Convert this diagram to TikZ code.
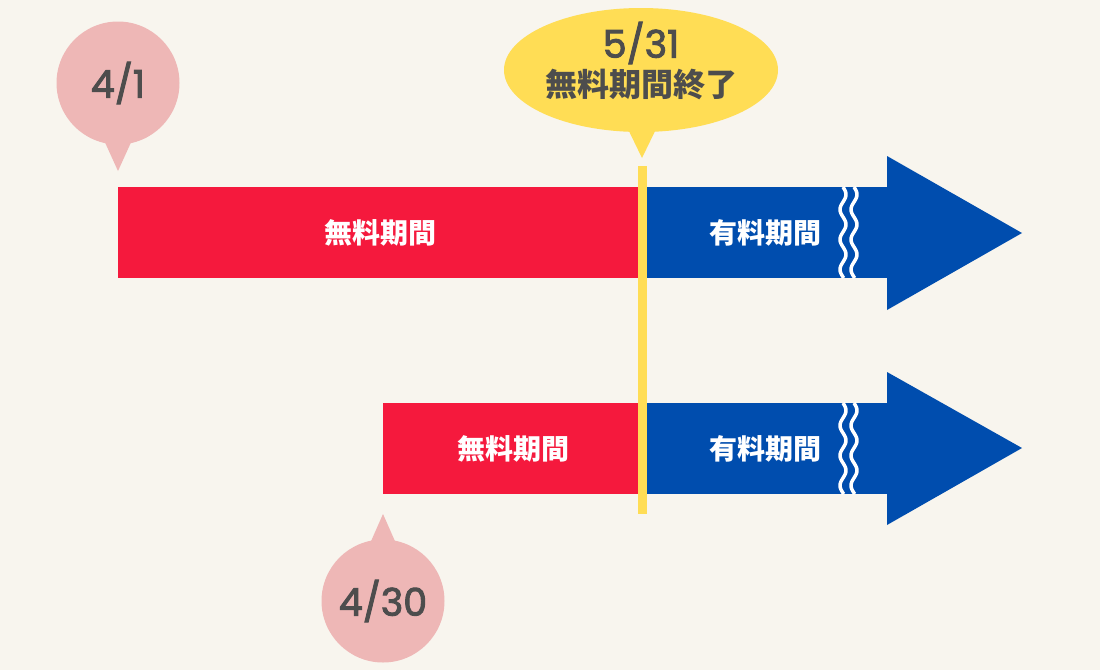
\documentclass[tikz,border=0pt]{standalone}
\usepackage{fontspec}
\setmainfont{Poppins}
\newfontfamily\datefont{Poppins}[FakeBold=2.5]
\newfontfamily\jpfont{Noto Sans CJK JP}
\definecolor{bgcream}{HTML}{F8F5EE}
\definecolor{freered}{HTML}{F5193D}
\definecolor{paidblue}{HTML}{004DAE}
\definecolor{endyellow}{HTML}{FFDD55}
\definecolor{datepink}{HTML}{EEB7B6}
\definecolor{textgray}{HTML}{4D4D4D}

\begin{document}
\begin{tikzpicture}[x=1pt, y=-1pt,
    barlabel/.style={white, font=\jpfont\bfseries\fontsize{28}{30}\selectfont},
    datelabel/.style={textgray, inner sep=0pt, font=\datefont\fontsize{38}{40}\selectfont},
    wave/.style={white, line width=3.5pt}]
	\fill[bgcream] (0,0) rectangle (1100,670);
	\useasboundingbox (0,0) rectangle (1100,670);
	% bars
	\fill[freered] (118,187) rectangle (641,278);
	\fill[freered] (383,403) rectangle (641,494);
	\fill[paidblue] (641,187) rectangle (887,278);
	\fill[paidblue] (641,403) rectangle (887,494);
	\fill[paidblue] (887,156) -- (1022,233) -- (887,310) -- cycle;
	\fill[paidblue] (887,372) -- (1022,448) -- (887,525) -- cycle;
	\foreach \wx in {843,854}
		\foreach \wy in {187,403}
			\draw[wave] plot[domain=0:91, samples=80, variable=\t] ({\wx+3*sin(\t*12)}, {\wy+\t});
	% end of free period
	\fill[endyellow] (638,166) rectangle (647,514);
	\fill[endyellow] (641,70) ellipse [x radius=137, y radius=62];
	\fill[endyellow] (626,125) -- (642,158) -- (658,125) -- cycle;
	\node[datelabel] (enddate) at (641,43) {5/31};
	\node[textgray, inner sep=0pt, font=\jpfont\bfseries\fontsize{32}{34}\selectfont] (endtext) at (641,84) {無料期間終了};
	% start dates
	\fill[datepink] (118,83) circle [radius=61.5];
	\fill[datepink] (103,138) -- (118,171) -- (133,138) -- cycle;
	\node[datelabel] (startone) at (118,83) {4/1};
	\fill[datepink] (383,601) circle [radius=61.5];
	\fill[datepink] (368,548) -- (383,514) -- (398,548) -- cycle;
	\node[datelabel] (starttwo) at (383,601) {4/30};
	% bar texts
	\node[barlabel] (freeone) at (380,233) {無料期間};
	\node[barlabel] (paidone) at (765,233) {有料期間};
	\node[barlabel] (freetwo) at (513,449) {無料期間};
	\node[barlabel] (paidtwo) at (765,449) {有料期間};
\end{tikzpicture}
\end{document}
